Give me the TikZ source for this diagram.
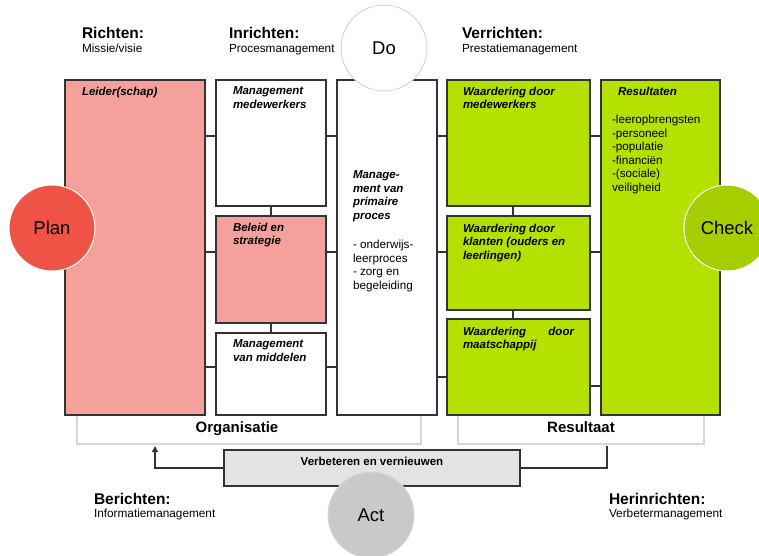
\documentclass[tikz,border=0pt]{standalone}
\usepackage{fontspec}
\setmainfont{Liberation Sans}
\usetikzlibrary{positioning}
\usetikzlibrary{arrows.meta}
\definecolor{ROZE}{HTML}{F4A19B}
\definecolor{ROOD}{HTML}{EF5345}
\definecolor{GROEN}{HTML}{B5E100}
\definecolor{GROEN_E}{HTML}{A6CD00}
\definecolor{GRIJS}{HTML}{C9C9C9}
\definecolor{GRIJS_L}{HTML}{E3E3E3}
\definecolor{HAAK}{HTML}{D6D6D6}
\definecolor{RAND}{HTML}{333333}
\tikzset{
	every node/.style = {inner sep=0pt, outer sep=0pt},
	blok/.style = {draw=RAND, line width=1.2pt, rectangle, anchor=north west},
	kop/.style = {font=\fontsize{11.5}{13.5}\selectfont\bfseries\itshape, align=left},
	lijst/.style = {font=\fontsize{11.7}{13.6}\selectfont, align=left},
	lijn/.style = {draw=RAND, line width=1.2pt},
	haak/.style = {draw=HAAK, line width=1.2pt},
	cirkel/.style = {circle, minimum size=86pt, line width=1pt, font=\fontsize{18.5}{20}\selectfont},
	titel/.style = {font=\fontsize{15.5}{17}\selectfont\bfseries, anchor=base west},
	sub/.style = {font=\fontsize{11.8}{13}\selectfont, anchor=base west}
}
\begin{document}
\begin{tikzpicture}[x=1pt, y=-1pt]
		\useasboundingbox (0,0) rectangle (759,555);
		% organisatie
		\node[blok, fill=ROZE, minimum width=140pt, minimum height=335pt] (leider) at (65,80) {};
		\node[blok, fill=white, minimum width=110pt, minimum height=126pt] (mgmtmw) at (216,80) {};
		\node[blok, fill=ROZE, minimum width=110pt, minimum height=107pt] (beleid) at (216,216) {};
		\node[blok, fill=white, minimum width=110pt, minimum height=82pt] (middelen) at (216,333) {};
		\node[blok, fill=white, minimum width=100pt, minimum height=335pt] (primair) at (337,80) {};
		% resultaat
		\node[blok, fill=GROEN, minimum width=143pt, minimum height=126pt] (wmw) at (447,80) {};
		\node[blok, fill=GROEN, minimum width=143pt, minimum height=94pt] (wklant) at (447,216) {};
		\node[blok, fill=GROEN, minimum width=143pt, minimum height=96pt] (wmaat) at (447,319) {};
		\node[blok, fill=GROEN, minimum width=119pt, minimum height=335pt] (result) at (601,80) {};
		% teksten in de blokken
		\node[kop, below right=7pt and 17pt of leider.north west] (leidertxt) {Leider(schap)};
		\node[kop, below right=7pt and 17pt of mgmtmw.north west] (mgmtmwtxt) {Management\\medewerkers};
		\node[kop, below right=7pt and 17pt of beleid.north west] (beleidtxt) {Beleid en\\strategie};
		\node[kop, below right=7pt and 17pt of middelen.north west] (middelentxt) {Management\\van middelen};
		\node[kop, below right=91pt and 16pt of primair.north west] (primairtxt) {Manage-\\ment van\\primaire\\proces};
		\node[lijst, below right=160pt and 16pt of primair.north west] (primairlijst) {- onderwijs-\\leerproces\\- zorg en\\begeleiding};
		\node[kop, below right=7pt and 16pt of wmw.north west] (wmwtxt) {Waardering door\\medewerkers};
		\node[kop, below right=8pt and 16pt of wklant.north west] (wklanttxt) {Waardering door\\klanten (ouders en\\leerlingen)};
		\node[kop, text width=111pt, below right=8pt and 16pt of wmaat.north west] (wmaattxt) {Waardering\hfill door\\maatschappij};
		\node[kop, below right=7pt and 17pt of result.north west] (resulttxt) {Resultaten};
		\node[lijst, below right=35pt and 11pt of result.north west] (resultlijst) {-leeropbrengsten\\-personeel\\-populatie\\-financiën\\-(sociale)\\veiligheid};
		% verbindingen
		\draw[lijn] (leider.east |- 0,136) -- (mgmtmw.west |- 0,136);
		\draw[lijn] (leider.east |- 0,252) -- (beleid.west |- 0,252);
		\draw[lijn] (leider.east |- 0,367) -- (middelen.west |- 0,367);
		\draw[lijn] (mgmtmw.east |- 0,136) -- (primair.west |- 0,136);
		\draw[lijn] (beleid.east |- 0,252) -- (primair.west |- 0,252);
		\draw[lijn] (middelen.east |- 0,367) -- (primair.west |- 0,367);
		\draw[lijn] (primair.east |- 0,136) -- (wmw.west |- 0,136);
		\draw[lijn] (primair.east |- 0,252) -- (wklant.west |- 0,252);
		\draw[lijn] (primair.east |- 0,377) -- (wmaat.west |- 0,377);
		\draw[lijn] (wmw.east |- 0,136) -- (result.west |- 0,136);
		\draw[lijn] (wklant.east |- 0,252) -- (result.west |- 0,252);
		\draw[lijn] (wmaat.east |- 0,386) -- (result.west |- 0,386);
		\draw[lijn] (mgmtmw.south) -- (beleid.north);
		\draw[lijn] (beleid.south) -- (middelen.north);
		\draw[lijn] (wmw.south -| 513,0) -- (wklant.north -| 513,0);
		\draw[lijn] (wklant.south -| 513,0) -- (wmaat.north -| 513,0);
		% haken
		\draw[haak] (77,416) |- (421,444) -- (421,416);
		\draw[haak] (458,416) |- (704,444) -- (704,416);
		\node[font=\fontsize{15}{17}\selectfont\bfseries, anchor=base] (organisatie) at (237,432) {Organisatie};
		\node[font=\fontsize{15}{17}\selectfont\bfseries, anchor=base] (resultaat) at (581,432) {Resultaat};
		% verbeteren
		\node[blok, fill=GRIJS_L, minimum width=296pt, minimum height=36pt] (verbeter) at (224,450) {};
		\node[font=\fontsize{11.5}{13}\selectfont\bfseries, anchor=base] (verbetertxt) at (verbeter.north |- 0,465) {Verbeteren en vernieuwen};
		\coordinate (orgpijl) at (155,446);
		\coordinate (respunt) at (607,446);
		\draw[lijn, -{Triangle[length=6pt, width=6pt]}] (verbeter.west) -| (orgpijl);
		\draw[lijn] (verbeter.east) -| (respunt);
		% cirkels
		\node[cirkel, fill=ROOD, draw=white] (plan) at (52,228) {Plan};
		\node[cirkel, fill=GROEN_E, draw=white] (check) at (727,228) {Check};
		\node[cirkel, fill=white, draw=HAAK] (do) at (384,48) {Do};
		\node[cirkel, fill=GRIJS, draw=HAAK] (act) at (371,515) {Act};
		% koppen
		\node[titel] (richten) at (82,38) {Richten:};
		\node[sub] (missie) at (82,52) {Missie/visie};
		\node[titel] (inrichten) at (229,38) {Inrichten:};
		\node[sub] (procesmgmt) at (229,52) {Procesmanagement};
		\node[titel] (verrichten) at (462,38) {Verrichten:};
		\node[sub] (prestatie) at (462,52) {Prestatiemanagement};
		\node[titel] (berichten) at (94,504) {Berichten:};
		\node[sub] (informatie) at (94,517) {Informatiemanagement};
		\node[titel] (herinrichten) at (609,504) {Herinrichten:};
		\node[sub] (verbetermgmt) at (609,517) {Verbetermanagement};
	\end{tikzpicture}
\end{document}
